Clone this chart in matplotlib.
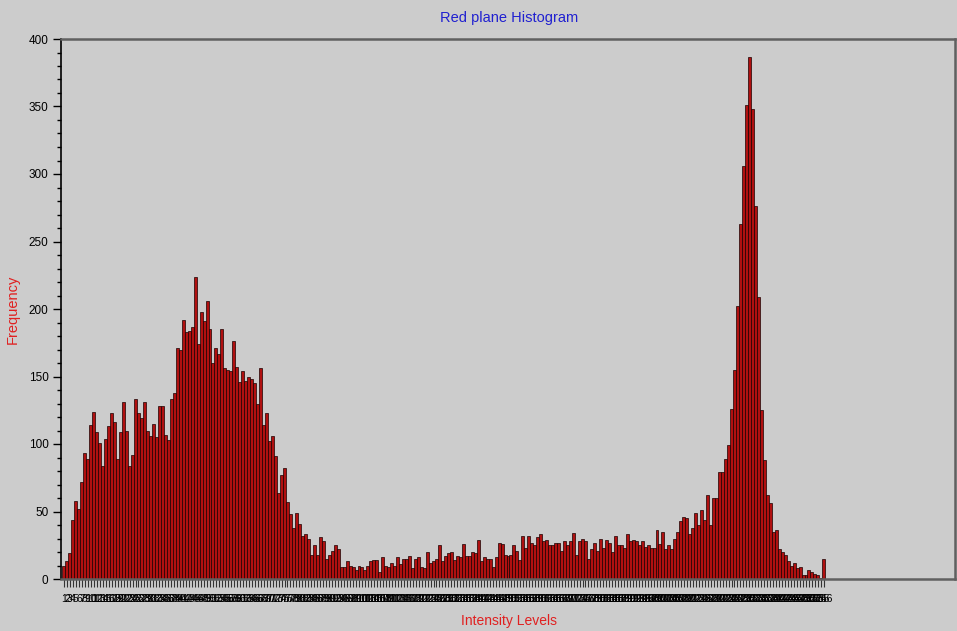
import numpy as np
import matplotlib.pyplot as plt
from matplotlib.ticker import MultipleLocator

plt.rcParams['font.family'] = ['Liberation Sans', 'DejaVu Sans']

# histogram of the red plane, intensity levels 1..256
levels = list(range(1, 257))
freq = [
    10, 13, 19, 44, 58, 52, 72, 93, 89, 114,
    124, 109, 101, 84, 104, 113, 123, 116, 89, 109,
    131, 110, 84, 92, 133, 123, 119, 131, 110, 106,
    115, 105, 128, 128, 107, 103, 133, 138, 171, 170,
    192, 183, 184, 187, 224, 174, 198, 191, 206, 185,
    160, 171, 167, 185, 156, 155, 154, 176, 157, 146,
    154, 147, 150, 148, 145, 130, 156, 114, 123, 102,
    106, 91, 64, 77, 82, 57, 48, 38, 49, 41,
    32, 33, 30, 18, 25, 18, 31, 28, 15, 18,
    21, 25, 22, 9, 9, 13, 10, 9, 7, 10,
    9, 7, 10, 13, 14, 14, 5, 16, 10, 9,
    12, 10, 16, 11, 15, 15, 17, 8, 15, 16,
    9, 8, 20, 12, 13, 15, 25, 13, 17, 19,
    20, 14, 17, 16, 26, 17, 17, 20, 19, 29,
    13, 16, 15, 15, 9, 16, 27, 26, 18, 17,
    18, 25, 21, 14, 32, 23, 32, 27, 25, 31,
    33, 28, 29, 25, 25, 27, 27, 21, 28, 25,
    28, 34, 18, 28, 30, 28, 15, 22, 27, 21,
    30, 23, 29, 27, 20, 32, 25, 25, 23, 33,
    28, 29, 28, 25, 28, 24, 25, 23, 23, 36,
    26, 35, 22, 25, 22, 30, 35, 43, 46, 45,
    33, 38, 49, 40, 51, 44, 62, 40, 60, 60,
    79, 79, 89, 99, 126, 155, 202, 263, 306, 351,
    387, 348, 276, 209, 125, 88, 62, 56, 35, 36,
    22, 20, 18, 13, 10, 12, 8, 9, 3, 3,
    7, 5, 4, 3, 1, 15,
]

bg = '#cccccc'
fig = plt.figure(figsize=(9.57, 6.31), dpi=100, facecolor=bg)
ax = fig.add_axes([61 / 957, 52 / 631, 894 / 957, 540 / 631], facecolor=bg)

ax.bar(levels, freq, width=1.0, color='#b01010', edgecolor='#1a0000', linewidth=0.5)

ax.set_xlim(0, 300)
ax.set_ylim(0, 400)

ax.set_xticks(levels)
ax.set_xticklabels([str(v) for v in levels], fontsize=7.5, color='black')
ax.tick_params(axis='x', length=6, width=0.8, color='#333333', pad=5)

ax.yaxis.set_major_locator(MultipleLocator(50))
ax.yaxis.set_minor_locator(MultipleLocator(10))
ax.tick_params(axis='y', which='major', length=6, width=1, labelsize=8.5, pad=3)
ax.tick_params(axis='y', which='minor', length=3, width=1)

ax.spines['left'].set_color('black')
ax.spines['left'].set_linewidth(1.2)
for s in ['top', 'bottom', 'right']:
    ax.spines[s].set_color('#606060')
    ax.spines[s].set_linewidth(1.8)

fig.text(509 / 957, 1 - 18 / 631, 'Red plane Histogram', color='#2020d0',
         fontsize=10.5, ha='center', va='center')
fig.text(509 / 957, 1 - 621 / 631, 'Intensity Levels', color='#e02020',
         fontsize=10, ha='center', va='center')
fig.text(13 / 957, 1 - 309 / 631, 'Frequency', color='#e02020',
         fontsize=10.5, ha='center', va='center', rotation=90)

fig.savefig('out.png', dpi=100, facecolor=bg)
